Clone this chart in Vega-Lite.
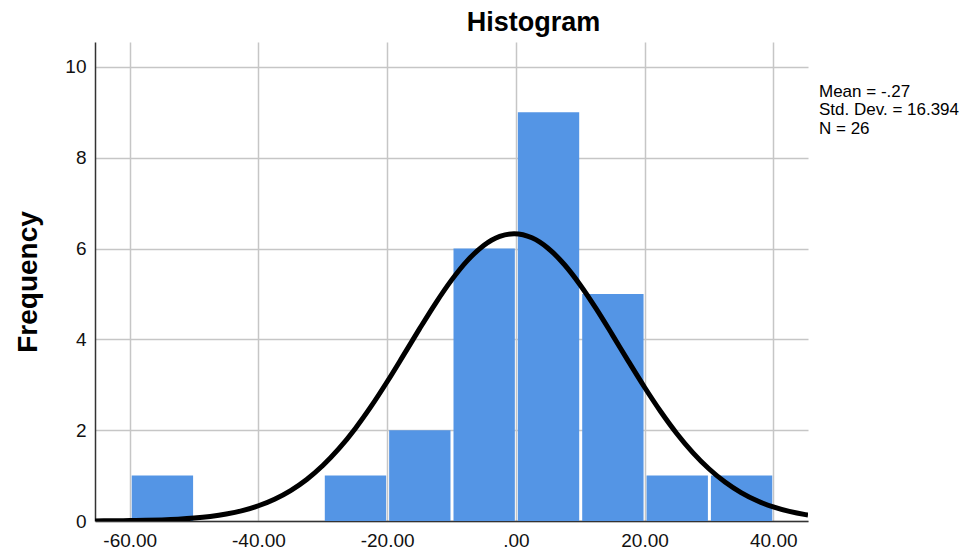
{
  "$schema": "https://vega.github.io/schema/vega-lite/v6.json",
  "width": 713,
  "height": 479,
  "autosize": {"type": "none"},
  "padding": {"left": 95, "top": 42, "right": 172, "bottom": 36},
  "background": "white",
  "title": {"text": "Histogram", "fontSize": 27, "fontWeight": "bold", "font": "Liberation Sans", "color": "#000000", "anchor": "middle", "frame": "group", "dx": 82, "offset": 5},
  "config": {"view": {"stroke": null}, "font": "Liberation Sans"},
  "datasets": {
    "bins": [
      {"bin_start": -60, "bin_end": -50, "count": 1},
      {"bin_start": -50, "bin_end": -40, "count": 0},
      {"bin_start": -40, "bin_end": -30, "count": 0},
      {"bin_start": -30, "bin_end": -20, "count": 1},
      {"bin_start": -20, "bin_end": -10, "count": 2},
      {"bin_start": -10, "bin_end": 0, "count": 6},
      {"bin_start": 0, "bin_end": 10, "count": 9},
      {"bin_start": 10, "bin_end": 20, "count": 5},
      {"bin_start": 20, "bin_end": 30, "count": 1},
      {"bin_start": 30, "bin_end": 40, "count": 1}
    ],
    "curve": [
      {"value": -65.4, "frequency": 0.0024},
      {"value": -62.5, "frequency": 0.0047},
      {"value": -60, "frequency": 0.0083},
      {"value": -57.5, "frequency": 0.0143},
      {"value": -55, "frequency": 0.0241},
      {"value": -52.5, "frequency": 0.0396},
      {"value": -50, "frequency": 0.0636},
      {"value": -47.5, "frequency": 0.0998},
      {"value": -45, "frequency": 0.153},
      {"value": -42.5, "frequency": 0.2293},
      {"value": -40, "frequency": 0.3357},
      {"value": -37.5, "frequency": 0.4801},
      {"value": -35, "frequency": 0.6709},
      {"value": -32.5, "frequency": 0.916},
      {"value": -30, "frequency": 1.222},
      {"value": -27.5, "frequency": 1.5927},
      {"value": -25, "frequency": 2.0281},
      {"value": -22.5, "frequency": 2.5231},
      {"value": -20, "frequency": 3.0668},
      {"value": -17.5, "frequency": 3.642},
      {"value": -15, "frequency": 4.2257},
      {"value": -12.5, "frequency": 4.7902},
      {"value": -10, "frequency": 5.3053},
      {"value": -7.5, "frequency": 5.7407},
      {"value": -5, "frequency": 6.0691},
      {"value": -2.5, "frequency": 6.2687},
      {"value": -0.27, "frequency": 6.327},
      {"value": 2.5, "frequency": 6.2373},
      {"value": 5, "frequency": 6.0084},
      {"value": 7.5, "frequency": 5.6548},
      {"value": 10, "frequency": 5.1997},
      {"value": 12.5, "frequency": 4.6714},
      {"value": 15, "frequency": 4.1002},
      {"value": 17.5, "frequency": 3.5162},
      {"value": 20, "frequency": 2.946},
      {"value": 22.5, "frequency": 2.4116},
      {"value": 25, "frequency": 1.9287},
      {"value": 27.5, "frequency": 1.507},
      {"value": 30, "frequency": 1.1505},
      {"value": 32.5, "frequency": 0.8581},
      {"value": 35, "frequency": 0.6254},
      {"value": 37.5, "frequency": 0.4452},
      {"value": 40, "frequency": 0.3097},
      {"value": 42.5, "frequency": 0.2105},
      {"value": 45, "frequency": 0.1398},
      {"value": 45.4, "frequency": 0.1305}
    ]
  },
  "layer": [
    {
      "data": {"name": "bins"},
      "mark": {"type": "bar", "color": "#5495e5", "binSpacing": 3},
      "encoding": {
        "x": {
          "field": "bin_start", "type": "quantitative", "bin": "binned",
          "scale": {"domain": [-65.4, 45.4], "nice": false, "zero": false},
          "axis": {
            "title": null, "values": [-60, -40, -20, 0, 20, 40],
            "labelExpr": "datum.value == 0 ? '.00' : (datum.value < 0 ? '-' + format(-datum.value, '.2f') : format(datum.value, '.2f'))",
            "labelFontSize": 19, "labelColor": "#111111", "labelPadding": 10, "ticks": false,
            "domainColor": "#333333", "domainWidth": 1.5,
            "grid": true, "gridColor": "#c6c6c6", "gridWidth": 1.5, "labelFlush": false
          }
        },
        "x2": {"field": "bin_end"},
        "y": {
          "field": "count", "type": "quantitative",
          "scale": {"domain": [0, 10.55], "nice": false},
          "axis": {
            "title": "Frequency", "titleFontSize": 28, "titleFontWeight": "bold", "titleColor": "#000000", "titlePadding": 22,
            "values": [0, 2, 4, 6, 8, 10], "format": "d",
            "labelFontSize": 19, "labelColor": "#111111", "labelPadding": 9, "ticks": false,
            "domainColor": "#333333", "domainWidth": 1.5,
            "grid": true, "gridColor": "#c6c6c6", "gridWidth": 1.5
          }
        }
      }
    },
    {
      "data": {"name": "curve"},
      "mark": {"type": "line", "color": "#000000", "strokeWidth": 5, "interpolate": "monotone", "clip": true},
      "encoding": {
        "x": {"field": "value", "type": "quantitative"},
        "y": {"field": "frequency", "type": "quantitative"}
      }
    },
    {
      "data": {"values": [{}]},
      "mark": {"type": "text", "text": ["Mean = -.27", "Std. Dev. = 16.394", "N = 26"], "align": "left", "baseline": "alphabetic", "dx": 11, "fontSize": 17, "lineHeight": 18.5, "font": "Liberation Sans", "color": "#000000"},
      "encoding": {
        "x": {"datum": 45.4, "type": "quantitative"},
        "y": {"datum": 9.34, "type": "quantitative"}
      }
    }
  ]
}
